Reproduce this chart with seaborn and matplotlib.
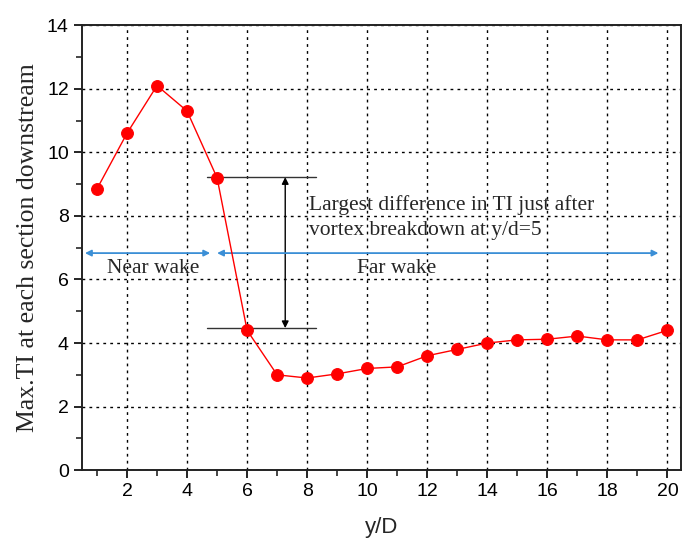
import matplotlib
matplotlib.use("Agg")
import matplotlib.pyplot as plt
import seaborn as sns
import pandas as pd
from matplotlib.ticker import MultipleLocator

y_over_d = [1, 2, 3, 4, 5, 6, 7, 8, 9, 10, 11, 12, 13, 14, 15, 16, 17, 18, 19, 20]
max_ti = [8.85, 10.6, 12.1, 11.3, 9.2, 4.4, 3.0, 2.9, 3.03, 3.2, 3.25, 3.6, 3.8, 4.0, 4.1, 4.12, 4.22, 4.1, 4.1, 4.4]
x_label = "y/D"
y_label = "Max.TI at each section downstream"
annot_lines = ["Largest difference in TI just after", "vortex breakdown at y/d=5"]
near_label = "Near wake"
far_label = "Far wake"

df = pd.DataFrame({"x": y_over_d, "y": max_ti})

sns.set_style("ticks")
plt.rcParams["font.family"] = ["Liberation Sans", "DejaVu Sans"]
serif = ["Liberation Serif", "DejaVu Serif"]

fig = plt.figure(figsize=(6.83, 5.48), dpi=100)
ax = fig.add_axes([0.120, 0.142, 0.877, 0.812])

sns.lineplot(data=df, x="x", y="y", ax=ax, color="#ff0000", linewidth=1.0,
             marker="o", markersize=8.5, markeredgecolor="#ff0000", zorder=5)

ax.set_xlim(0.5, 20.45)
ax.set_ylim(0, 14)
ax.xaxis.set_major_locator(MultipleLocator(2))
ax.xaxis.set_minor_locator(MultipleLocator(1))
ax.yaxis.set_major_locator(MultipleLocator(2))
ax.yaxis.set_minor_locator(MultipleLocator(1))
ax.grid(True, which="major", color="black", linestyle=(0, (2, 3)), linewidth=1.0)
ax.tick_params(which="major", direction="out", length=6, width=1.2, labelsize=14, colors="black")
ax.tick_params(which="minor", direction="out", length=4, width=1.2)
ax.tick_params(axis="y", which="both", left=True)
ax.tick_params(axis="x", which="both", bottom=True)
for s in ax.spines.values():
    s.set_visible(True)
    s.set_color("#222222")
    s.set_linewidth(1.4)

ax.set_xlabel(x_label, fontsize=16, labelpad=12)
ax.set_ylabel(y_label, fontsize=18.5, family=serif, labelpad=6)

# annotation lines
ax.plot([4.67, 8.3], [9.22, 9.22], color="#333333", linewidth=1.0, zorder=4)
ax.plot([4.67, 8.3], [4.47, 4.47], color="#333333", linewidth=1.0, zorder=4)
ax.annotate("", xy=(7.27, 9.22), xytext=(7.27, 4.47),
            arrowprops=dict(arrowstyle="<|-|>", color="black", lw=1.0,
                            mutation_scale=10, shrinkA=0, shrinkB=0))
ax.text(8.07, 8.33, annot_lines[0], family=serif, fontsize=15.5, va="center", ha="left")
ax.text(8.07, 7.55, annot_lines[1], family=serif, fontsize=15.5, va="center", ha="left")

# wake arrows
blue = "#3b8fd6"
ax.annotate("", xy=(0.6, 6.83), xytext=(4.77, 6.83),
            arrowprops=dict(arrowstyle="<|-|>", color=blue, lw=1.3,
                            mutation_scale=9, shrinkA=0, shrinkB=0))
ax.annotate("", xy=(5.0, 6.83), xytext=(19.7, 6.83),
            arrowprops=dict(arrowstyle="<|-|>", color=blue, lw=1.3,
                            mutation_scale=9, shrinkA=0, shrinkB=0))
ax.text(1.33, 6.33, near_label, family=serif, fontsize=15.5, va="center", ha="left")
ax.text(9.67, 6.33, far_label, family=serif, fontsize=15.5, va="center", ha="left")

fig.savefig("out.png", dpi=100)
